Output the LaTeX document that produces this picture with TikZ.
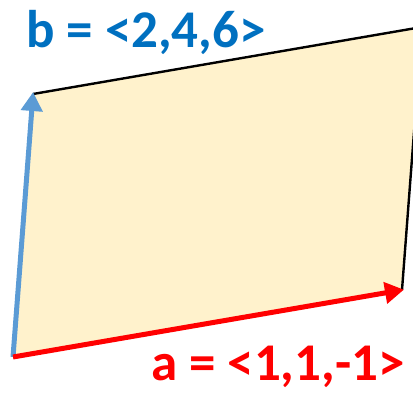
\documentclass[tikz,border=0pt]{standalone}
\usepackage{fontspec}
\setmainfont{Carlito}
\usetikzlibrary{arrows.meta, positioning}

\definecolor{vecred}{HTML}{FF0000}
\definecolor{vecblue}{HTML}{5B9BD5}
\definecolor{labblue}{HTML}{0070C0}
\definecolor{areafill}{HTML}{FFF2CC}

\begin{document}
\begin{tikzpicture}[
  x=1pt, y=-1pt,
  vec/.style={line width=5pt, -{Triangle[length=19pt, width=21pt]}, shorten >=-2pt},
  edge/.style={line width=2.4pt, black},
  lab/.style={font=\fontsize{53}{58}\selectfont\bfseries, inner sep=0pt, anchor=base west},
]
\useasboundingbox (0,0) rectangle (413,393);
\clip (0,0) rectangle (413,393);
%% corners of the parallelogram
\coordinate (o) at (13,357);
\coordinate (a) at (402,290);
\coordinate (b) at (33,94);
\coordinate (ab) at (422,27);
\fill[areafill] (o) -- (a) -- (ab) -- (b) -- cycle;
%% opposite sides
\draw[edge] (b) -- (ab);
\draw[edge] (a) -- (ab);
%% vectors
\draw[vec, vecblue] (o) -- (b);
\draw[vec, vecred] (o) -- (a);
%% labels
\node[lab, text=labblue] (blab) at (26,48) {b = <2,4,6>};
\node[lab, text=vecred] (alab) at (151,381) {a = <1,1,-1>};
\end{tikzpicture}
\end{document}
